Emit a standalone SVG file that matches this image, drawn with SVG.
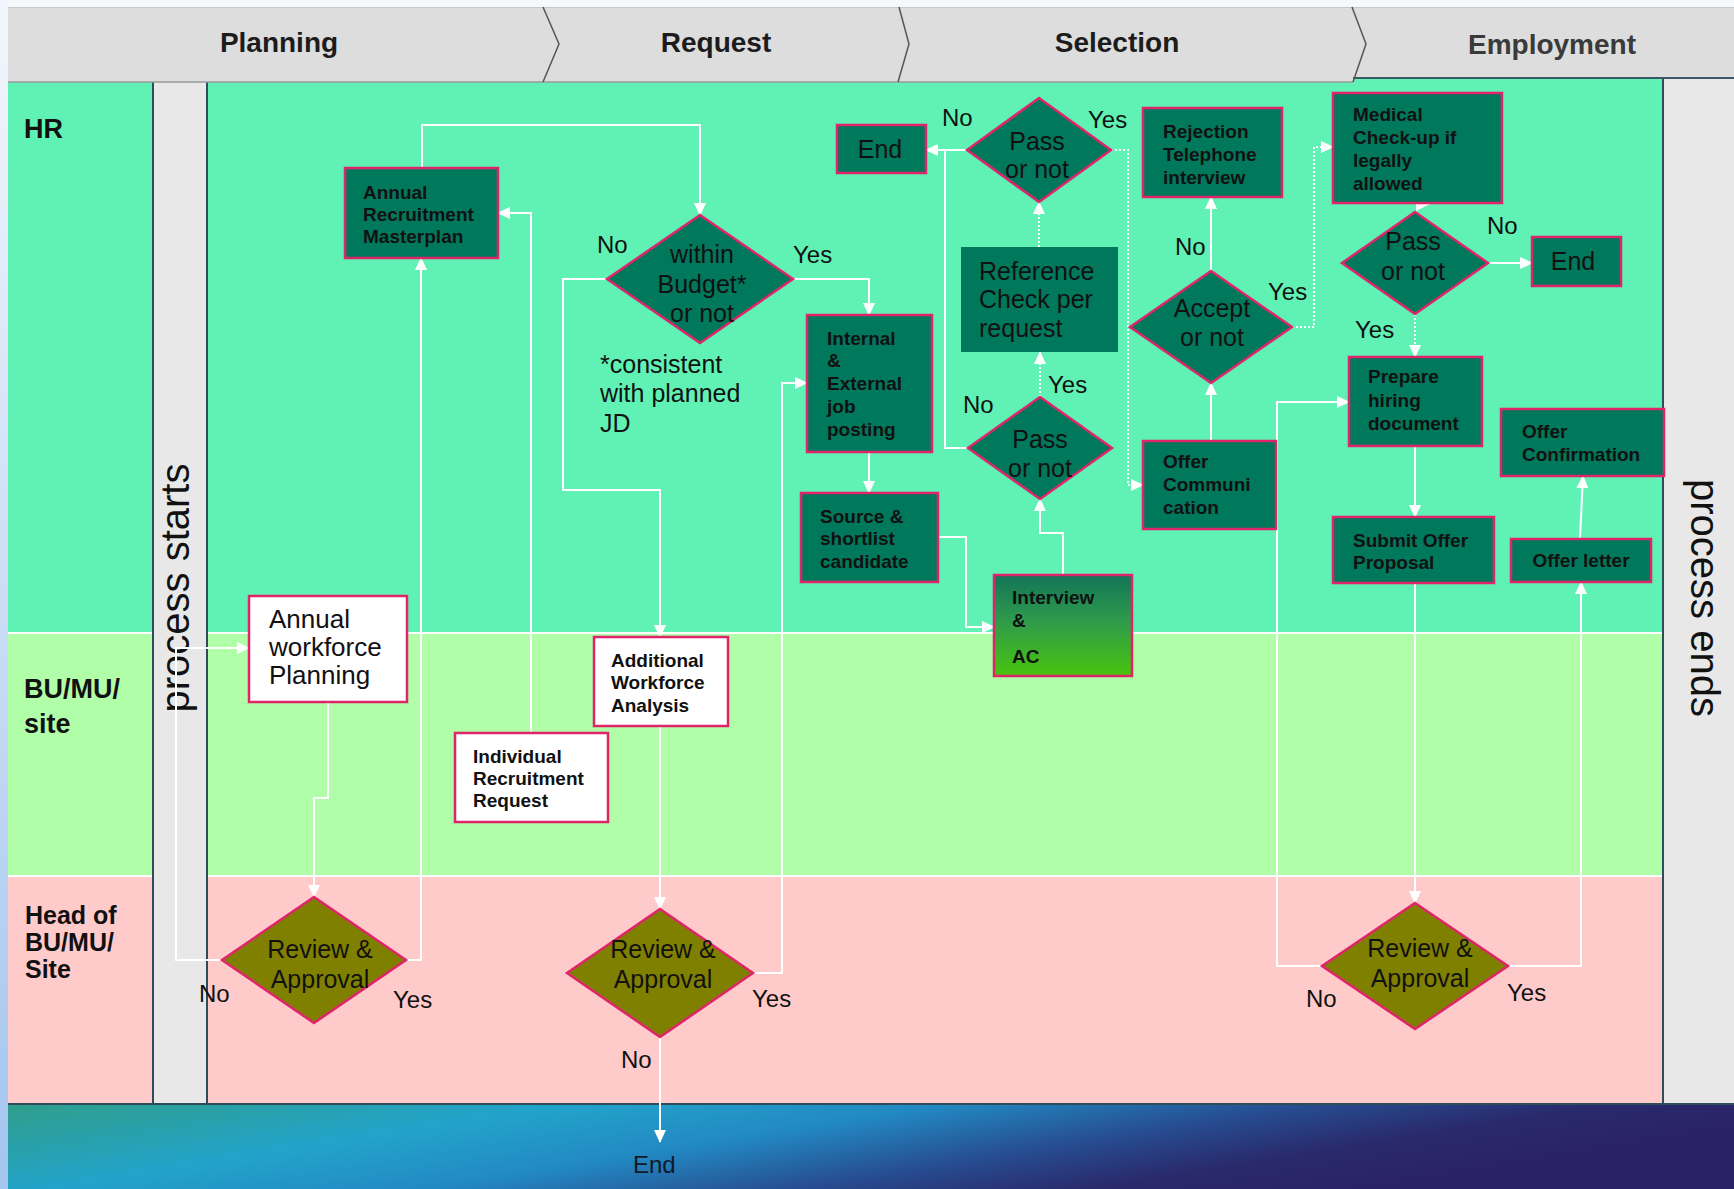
<svg xmlns="http://www.w3.org/2000/svg" width="1734" height="1189" viewBox="0 0 1734 1189">
<style>
.box{fill:#00785c;stroke:#e0246a;stroke-width:2.5}
.nob{fill:#00785c}
.wbox{fill:#fff;stroke:#e0246a;stroke-width:2.5}
.oli{fill:#808000;stroke:#e0246a;stroke-width:2.5}
text{font-family:"Liberation Sans",Arial,sans-serif;fill:#111}
.s{font-size:19px;font-weight:bold}
.m{font-size:25px}
.mc{font-size:25px;text-anchor:middle}
.lb{font-size:24px}
.hd{font-size:28px;font-weight:bold;text-anchor:middle;fill:#1c1c1c}
.ln{font-size:27px;font-weight:bold}
.ln2{font-size:25px;font-weight:bold}
.pr{font-size:40px;text-anchor:middle;fill:#111}
.c{fill:none;stroke:#fff;stroke-width:2}
.d{stroke-dasharray:2 2}
.sep{stroke:#fff;stroke-width:2}
.bd{stroke:#2d4d5b;stroke-width:2}
</style>
<defs>
<marker id="ah" viewBox="0 0 13 12" refX="12" refY="6" markerWidth="13" markerHeight="12" markerUnits="userSpaceOnUse" orient="auto"><path d="M0,0 L13,6 L0,12 z" fill="#fff"/></marker>
<linearGradient id="bot" x1="0" y1="0" x2="1" y2="0.3">
<stop offset="0" stop-color="#2f9e8a"/><stop offset="0.3" stop-color="#22a3cb"/><stop offset="0.5" stop-color="#2289c2"/><stop offset="0.7" stop-color="#274b8f"/><stop offset="0.85" stop-color="#292a6c"/><stop offset="1" stop-color="#2a2266"/>
</linearGradient>
<linearGradient id="lft" x1="0" y1="0" x2="0" y2="1"><stop offset="0" stop-color="#f3f6fc"/><stop offset="1" stop-color="#a3c5ee"/></linearGradient>
<linearGradient id="iv" x1="0" y1="0" x2="0" y2="1"><stop offset="0" stop-color="#127558"/><stop offset="0.45" stop-color="#2f9a4c"/><stop offset="1" stop-color="#48c40e"/></linearGradient>
</defs>

<g id="background">
<rect x="0" y="0" width="1734" height="1189" fill="#f6f8fb"/>
<rect x="0" y="0" width="8" height="1189" fill="url(#lft)"/>
<rect x="8" y="77" width="1655" height="556" fill="#5ff2b4"/>
<rect x="8" y="633" width="1655" height="243" fill="#b1fea9"/>
<rect x="8" y="876" width="1655" height="228" fill="#fecaca"/>
<rect x="154" y="82" width="53" height="1022" fill="#e8e8e8"/>
<rect x="1663" y="78" width="71" height="1026" fill="#e8e8e8"/>
<rect x="8" y="1104" width="1726" height="85" fill="url(#bot)"/>
<line x1="8" y1="633" x2="153" y2="633" class="sep"/>
<line x1="208" y1="633" x2="1662" y2="633" class="sep"/>
<line x1="8" y1="876" x2="153" y2="876" class="sep"/>
<line x1="208" y1="876" x2="1662" y2="876" class="sep"/>
<line x1="153" y1="82" x2="153" y2="1104" class="bd"/>
<line x1="207" y1="82" x2="207" y2="1104" class="bd"/>
<line x1="1663" y1="78" x2="1663" y2="1104" class="bd"/>
<line x1="8" y1="1104" x2="1734" y2="1104" class="bd"/>
</g>

<g id="header">
<rect x="8" y="7" width="1726" height="70" fill="#dddddd"/>
<rect x="8" y="76" width="1345" height="6" fill="#dddddd"/>
<line x1="8" y1="82" x2="1353" y2="82" stroke="#9a9a9a" stroke-width="1.5"/>
<line x1="1353" y1="78" x2="1734" y2="78" stroke="#3d5866" stroke-width="2"/>
<line x1="8" y1="7.5" x2="1734" y2="7.5" stroke="#c8c8c8" stroke-width="1"/>
<polyline points="543,7 559,44 543,82" fill="none" stroke="#555" stroke-width="1.5"/>
<polyline points="899,7 909,44 898,82" fill="none" stroke="#555" stroke-width="1.5"/>
<polyline points="1352,7 1366,44 1353,82" fill="none" stroke="#555" stroke-width="1.5"/>
<text class="hd" x="279" y="52">Planning</text>
<text class="hd" x="716" y="52">Request</text>
<text class="hd" x="1117" y="52">Selection</text>
<text class="hd" x="1552" y="54" style="fill:#3a3a3a">Employment</text>
</g>

<g id="lane-labels">
<text class="ln" x="24" y="138">HR</text>
<text class="ln" x="24" y="698">BU/MU/</text>
<text class="ln" x="24" y="733">site</text>
<text class="ln2" x="25" y="924">Head of</text>
<text class="ln2" x="25" y="951">BU/MU/</text>
<text class="ln2" x="25" y="978">Site</text>
<text class="pr" transform="translate(189,588) rotate(-90)">process starts</text>
<text class="pr" transform="translate(1691,598) rotate(90)">process ends</text>
</g>

<g id="connectors">
<polyline class="c" points="222,960 176,960 176,648 249,648" marker-end="url(#ah)"/>
<polyline class="c" points="328,702 328,798 314,798 314,897" marker-end="url(#ah)"/>
<polyline class="c" points="406,960 421,960 421,258" marker-end="url(#ah)"/>
<polyline class="c" points="422,168 422,125 700,125 700,215" marker-end="url(#ah)"/>
<polyline class="c" points="531,733 531,213 498,213" marker-end="url(#ah)"/>
<polyline class="c" points="607,279 563,279 563,490 660,490 660,637" marker-end="url(#ah)"/>
<polyline class="c" points="793,279 869,279 869,315" marker-end="url(#ah)"/>
<polyline class="c" points="660,726 660,909" marker-end="url(#ah)"/>
<polyline class="c" points="660,1037 660,1142" marker-end="url(#ah)"/>
<polyline class="c" points="753,973 782,973 782,383 807,383" marker-end="url(#ah)"/>
<polyline class="c" points="869,452 869,493" marker-end="url(#ah)"/>
<polyline class="c" points="938,537 966,537 966,627 994,627" marker-end="url(#ah)"/>
<polyline class="c" points="1063,575 1063,533 1040,533 1040,499" marker-end="url(#ah)"/>
<polyline class="c" points="968,448 945,448 945,150"/>
<polyline class="c" points="967,150 926,150" marker-end="url(#ah)"/>
<polyline class="c d" points="1040,397 1040,352" marker-end="url(#ah)"/>
<polyline class="c d" points="1039,247 1039,202" marker-end="url(#ah)"/>
<polyline class="c d" points="1111,150 1128,150 1128,485 1143,485" marker-end="url(#ah)"/>
<polyline class="c" points="1211,441 1211,383" marker-end="url(#ah)"/>
<polyline class="c" points="1211,271 1211,197" marker-end="url(#ah)"/>
<polyline class="c d" points="1292,327 1314,327 1314,147 1333,147" marker-end="url(#ah)"/>
<path d="M1416,197 L1430,204 L1416,211 z" fill="#fff"/>
<polyline class="c" points="1488,263 1532,263" marker-end="url(#ah)"/>
<polyline class="c d" points="1415,314 1415,357" marker-end="url(#ah)"/>
<polyline class="c" points="1415,446 1415,517" marker-end="url(#ah)"/>
<polyline class="c" points="1415,583 1415,903" marker-end="url(#ah)"/>
<polyline class="c" points="1322,966 1277,966 1277,402 1349,402" marker-end="url(#ah)"/>
<polyline class="c" points="1508,966 1581,966 1581,582" marker-end="url(#ah)"/>
<polyline class="c" points="1580,539 1583,476" marker-end="url(#ah)"/>
</g>

<g id="n-awp"><rect class="wbox" x="249" y="596" width="158" height="106"/>
<text x="269" y="628" style="font-size:26px">Annual</text><text x="269" y="656" style="font-size:26px">workforce</text><text x="269" y="684" style="font-size:26px">Planning</text></g>

<g id="n-review1"><polygon class="oli" points="314,897 406,960 314,1023 222,960"/>
<text class="mc" x="320" y="958">Review &amp;</text><text class="mc" x="320" y="988">Approval</text>
<text class="lb" x="199" y="1002">No</text><text class="lb" x="393" y="1008">Yes</text></g>

<g id="n-masterplan"><rect class="box" x="345" y="168" width="153" height="90"/>
<text class="s" x="363" y="199">Annual</text><text class="s" x="363" y="221">Recruitment</text><text class="s" x="363" y="243">Masterplan</text></g>

<g id="n-irr"><rect class="wbox" x="455" y="733" width="153" height="89"/>
<text class="s" x="473" y="763">Individual</text><text class="s" x="473" y="785">Recruitment</text><text class="s" x="473" y="807">Request</text></g>

<g id="n-budget"><polygon class="box" points="700,215 793,279 700,343 607,279"/>
<text class="mc" x="702" y="263">within</text><text class="mc" x="702" y="293">Budget*</text><text class="mc" x="702" y="322">or not</text>
<text class="lb" x="597" y="253">No</text><text class="lb" x="793" y="263">Yes</text></g>

<g id="n-note"><text class="m" x="600" y="373">*consistent</text><text class="m" x="600" y="402">with planned</text><text class="m" x="600" y="432">JD</text></g>

<g id="n-awa"><rect class="wbox" x="594" y="637" width="134" height="89"/>
<text class="s" x="611" y="667">Additional</text><text class="s" x="611" y="689">Workforce</text><text class="s" x="611" y="712">Analysis</text></g>

<g id="n-review2"><polygon class="oli" points="660,909 753,973 660,1037 567,973"/>
<text class="mc" x="663" y="958">Review &amp;</text><text class="mc" x="663" y="988">Approval</text>
<text class="lb" x="752" y="1007">Yes</text><text class="lb" x="621" y="1068">No</text></g>

<g id="n-end-bottom"><text class="lb" x="633" y="1173" style="fill:#101828">End</text></g>

<g id="n-posting"><rect class="box" x="807" y="315" width="125" height="137"/>
<text class="s" x="827" y="345">Internal</text><text class="s" x="827" y="367">&amp;</text><text class="s" x="827" y="390">External</text><text class="s" x="827" y="413">job</text><text class="s" x="827" y="436">posting</text></g>

<g id="n-source"><rect class="box" x="801" y="493" width="137" height="89"/>
<text class="s" x="820" y="523">Source &amp;</text><text class="s" x="820" y="545">shortlist</text><text class="s" x="820" y="568">candidate</text></g>

<g id="n-end1"><rect class="box" x="837" y="125" width="89" height="48"/>
<text class="mc" x="880" y="158">End</text></g>

<g id="n-pass1"><polygon class="box" points="1039,98 1111,150 1039,202 967,150"/>
<text class="mc" x="1037" y="150">Pass</text><text class="mc" x="1037" y="178">or not</text>
<text class="lb" x="942" y="126">No</text><text class="lb" x="1088" y="128">Yes</text></g>

<g id="n-reference"><rect class="nob" x="961" y="247" width="157" height="105"/>
<text class="m" x="979" y="280">Reference</text><text class="m" x="979" y="308">Check per</text><text class="m" x="979" y="337">request</text></g>

<g id="n-pass2"><polygon class="box" points="1040,397 1112,448 1040,499 968,448"/>
<text class="mc" x="1040" y="448">Pass</text><text class="mc" x="1040" y="477">or not</text>
<text class="lb" x="963" y="413">No</text><text class="lb" x="1048" y="393">Yes</text></g>

<g id="n-interview"><rect x="994" y="575" width="138" height="101" fill="url(#iv)" stroke="#e0246a" stroke-width="2.5"/>
<text class="s" x="1012" y="604">Interview</text><text class="s" x="1012" y="627">&amp;</text><text class="s" x="1012" y="663">AC</text></g>

<g id="n-rejection"><rect class="box" x="1143" y="108" width="139" height="89"/>
<text class="s" x="1163" y="138">Rejection</text><text class="s" x="1163" y="161">Telephone</text><text class="s" x="1163" y="184">interview</text></g>

<g id="n-accept"><polygon class="box" points="1211,271 1292,327 1211,383 1130,327"/>
<text class="mc" x="1212" y="317">Accept</text><text class="mc" x="1212" y="346">or not</text>
<text class="lb" x="1175" y="255">No</text><text class="lb" x="1268" y="300">Yes</text></g>

<g id="n-offercomm"><rect class="box" x="1143" y="441" width="133" height="88"/>
<text class="s" x="1163" y="468">Offer</text><text class="s" x="1163" y="491">Communi</text><text class="s" x="1163" y="514">cation</text></g>

<g id="n-medical"><rect class="box" x="1333" y="93" width="169" height="110"/>
<text class="s" x="1353" y="121">Medical</text><text class="s" x="1353" y="144">Check-up if</text><text class="s" x="1353" y="167">legally</text><text class="s" x="1353" y="190">allowed</text></g>

<g id="n-pass3"><polygon class="box" points="1415,212 1488,263 1415,314 1342,263"/>
<text class="mc" x="1413" y="250">Pass</text><text class="mc" x="1413" y="280">or not</text>
<text class="lb" x="1487" y="234">No</text><text class="lb" x="1355" y="338">Yes</text></g>

<g id="n-end2"><rect class="box" x="1532" y="237" width="89" height="49"/>
<text class="mc" x="1573" y="270">End</text></g>

<g id="n-prepare"><rect class="box" x="1349" y="357" width="133" height="89"/>
<text class="s" x="1368" y="383">Prepare</text><text class="s" x="1368" y="407">hiring</text><text class="s" x="1368" y="430">document</text></g>

<g id="n-offerconf"><rect class="box" x="1501" y="409" width="163" height="67"/>
<text class="s" x="1522" y="438">Offer</text><text class="s" x="1522" y="461">Confirmation</text></g>

<g id="n-submit"><rect class="box" x="1333" y="517" width="161" height="66"/>
<text class="s" x="1353" y="547">Submit Offer</text><text class="s" x="1353" y="569">Proposal</text></g>

<g id="n-offerletter"><rect class="box" x="1511" y="539" width="140" height="43"/>
<text class="s" x="1581" y="567" text-anchor="middle">Offer letter</text></g>

<g id="n-review3"><polygon class="oli" points="1415,903 1508,966 1415,1029 1322,966"/>
<text class="mc" x="1420" y="957">Review &amp;</text><text class="mc" x="1420" y="987">Approval</text>
<text class="lb" x="1306" y="1007">No</text><text class="lb" x="1507" y="1001">Yes</text></g>
</svg>
